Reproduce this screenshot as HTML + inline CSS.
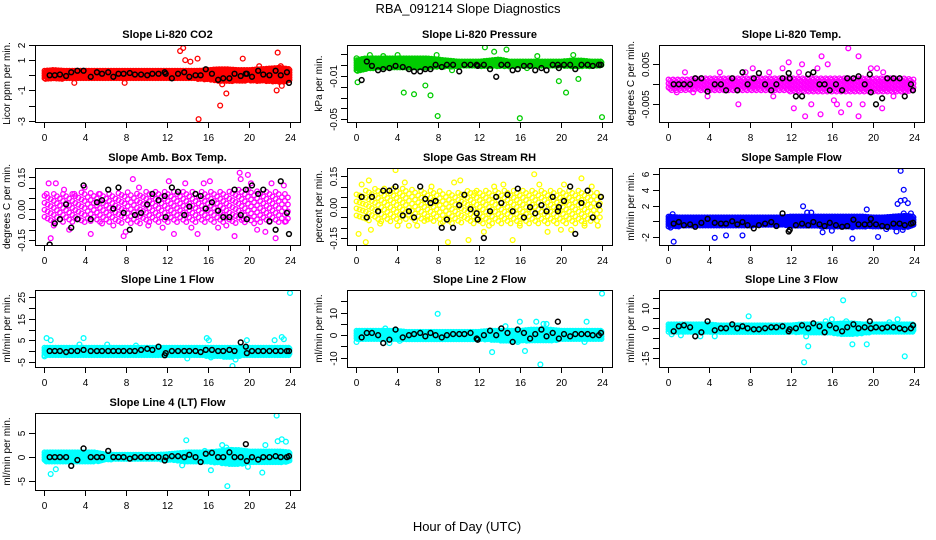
<!DOCTYPE html>
<html><head><meta charset="utf-8"><style>
html,body{margin:0;padding:0;background:#fff;}
svg{display:block;font-family:"Liberation Sans",sans-serif;}
</style></head><body>
<svg id="chart" width="936" height="540" viewBox="0 0 936 540" xmlns="http://www.w3.org/2000/svg">
<text x="468" y="13" font-size="13" text-anchor="middle">RBA_091214  Slope Diagnostics</text>
<text x="467" y="531" font-size="13" text-anchor="middle">Hour of Day (UTC)</text>
</svg>
<script>
// ---- data ----
const hourTicks = [0,4,8,12,16,20,24];
const blkX = [0.6,1.1,1.6,2.2,2.7,3.3,3.9,4.6,5.2,5.7,6.3,6.8,7.3,7.8,8.4,8.9,9.5,10.1,10.6,11.2,11.8,11.9,12.5,13.1,13.7,14.2,14.8,15.3,15.8,16.4,17.0,17.5,18.1,18.6,19.2,19.7,19.8,20.3,20.9,21.4,22.0,22.6,23.1,23.7,23.9];

const co2Blk = [0,0,0.05,-0.05,0.2,0.3,0.3,-0.1,0.2,0.1,0.2,-0.1,0.1,0.1,0.15,0.05,0.05,0,0.1,0.1,0.2,0.1,-0.2,0.1,0.2,-0.1,0,0,0.4,0.1,-0.3,-0.2,-0.2,0.1,-0.05,0.1,0.1,-0.1,0.3,0.05,0,0.3,0,0.2,-0.5];
const co2Lo = [-0.25,-0.25,-0.25,-0.25,-0.25,-0.25,-0.25,-0.25,-0.25,-0.25,-0.25,-0.25,-0.25,-0.25,-0.25,-0.25,-0.3,-0.4,-0.4,-0.4,-0.35,-0.4,-0.4,-0.45,-0.4];
const co2Hi = [0.3,0.35,0.3,0.3,0.3,0.3,0.3,0.3,0.3,0.3,0.3,0.3,0.3,0.3,0.3,0.3,0.35,0.4,0.4,0.35,0.35,0.4,0.45,0.5,0.4];
const co2OutX = [13.3,13.6,13.8,14.3,15.0,15.1,17.2,17.8,17.4,19.4,21.0,22.8,22.7,23.2,23.1,7.9,3.0];
const co2OutY = [1.6,1.8,1.0,0.9,1.1,-2.9,-2.0,-1.2,-0.6,1.1,0.6,1.5,-1.0,-0.7,0.6,-0.5,-0.5];

const presBlk = [-0.014,0.003,-0.001,-0.005,-0.004,-0.003,-0.001,-0.002,-0.004,-0.006,-0.006,-0.004,-0.004,0.0,-0.002,0.0,0.0,-0.006,0.0,0.0,0.0,-0.001,0.0,-0.004,-0.011,0.0,0.0,-0.005,-0.004,-0.001,-0.001,-0.005,-0.003,-0.005,0.0,0.0,-0.003,0.0,0.0,-0.004,0.0,0.0,-0.001,0.0,0.0];
const presLo = [-0.006,-0.004,-0.003,-0.003,-0.003,-0.003,-0.003,-0.003,-0.002,-0.002,-0.0015,-0.0015,-0.0015,-0.0015,-0.0015,-0.0015,-0.0015,-0.0015,-0.0015,-0.0015,-0.0015,-0.0015,-0.0015,-0.0015,-0.0015];
const presHi = [0.004,0.006,0.006,0.006,0.006,0.006,0.006,0.006,0.005,0.004,0.003,0.003,0.003,0.004,0.005,0.003,0.003,0.003,0.003,0.003,0.003,0.004,0.004,0.003,0.003];
const presOutX = [0.2,0.1,4.7,5.7,6.8,7.3,8.0,16.0,24.0,20.5,19.8,21.7,12.6,14.7,13.5,1.4,2.7,4.1,9.4,7.9,17.7,21.2,16.7];
const presOutY = [-0.016,0.006,-0.0255,-0.027,-0.019,-0.028,-0.047,-0.049,-0.048,-0.0255,-0.015,-0.013,0.016,0.014,0.012,0.009,0.008,0.009,-0.005,0.009,0.008,0.009,-0.003];

const lTempBlk = [0,0,0,0,0.0015,0.0015,-0.0018,0,0,-0.0015,0.0015,-0.0015,0.003,0,0.0015,0.0028,0,-0.0015,0,0.0015,0.0028,0.0015,-0.003,-0.003,0.0025,0.003,0,0,-0.0015,0,-0.0015,0.0015,0.0015,0.002,0,0.0025,-0.002,-0.005,-0.0035,0.0015,0.0015,0.0015,-0.003,0,-0.0015];
const lTempLo = [-0.0015,-0.0015,-0.0015,-0.0015,-0.0015,-0.0015,-0.0015,-0.0015,-0.0015,-0.0015,-0.0015,-0.0015,-0.002,-0.002,-0.002,-0.002,-0.002,-0.002,-0.002,-0.002,-0.002,-0.002,-0.002,-0.002,-0.0015];
const lTempHi = [0.0012,0.0012,0.0012,0.0015,0.0015,0.0015,0.0015,0.0015,0.0015,0.0015,0.0015,0.0015,0.0015,0.0015,0.0015,0.0015,0.0015,0.0015,0.0015,0.0015,0.0015,0.0015,0.0015,0.0015,0.0012];
const lTempOutX = [17.6,15.0,18.6,11.8,12.3,13.4,14.9,16.9,18.6,6.9,15.6,13.1,19.8,20.4,8.3,1.7,9.9,21.0,0.9,2.5,3.9,10.3,14.0,16.5,17.7,19.0,22.0,11.2,12.8,14.6,16.2,20.9,5.1,7.6];
const lTempOutY = [0.009,0.007,0.007,0.0055,-0.006,-0.008,-0.0075,-0.007,-0.008,-0.005,0.005,0.005,0.004,0.004,0.004,0.003,0.003,0.003,-0.002,-0.002,-0.003,-0.003,-0.005,-0.005,-0.005,-0.005,-0.003,0.004,0.003,0.004,-0.004,-0.006,0.003,0.003];

const ambBlk = [-0.17,-0.07,-0.05,0.02,-0.09,-0.05,0.11,-0.05,0.03,0.04,0.09,0.00,0.10,-0.02,-0.10,-0.03,-0.02,0.02,0.07,0.04,0.06,-0.04,0.10,0.08,-0.03,0.01,0.07,0.06,0.00,0.03,-0.01,-0.04,-0.04,0.09,-0.03,0.09,-0.05,0.11,0.07,0.09,-0.06,-0.10,0.13,-0.02,-0.12];
const ambLo = [-0.06,-0.07,-0.07,-0.07,-0.07,-0.07,-0.06,-0.07,-0.07,-0.07,-0.07,-0.07,-0.07,-0.07,-0.07,-0.07,-0.07,-0.07,-0.07,-0.07,-0.07,-0.07,-0.07,-0.07,-0.06];
const ambHi = [0.06,0.07,0.07,0.07,0.08,0.07,0.07,0.07,0.08,0.07,0.08,0.08,0.08,0.08,0.08,0.08,0.08,0.08,0.08,0.09,0.09,0.08,0.08,0.08,0.06];
const ambOutX = [0.5,0.3,0.7,1.2,1.0,3.0,2.5,4.0,4.6,5.4,5.7,6.8,7.8,8.7,9.3,10.2,11.6,12.2,12.7,13.8,14.4,15.0,15.6,16.2,17.0,17.8,18.6,19.1,19.2,19.9,20.2,20.8,21.6,22.2,22.6,23.4,23.6,19.5,8.0,2.0];
const ambOutY = [0.12,0.07,-0.14,0.12,-0.08,0.07,-0.10,0.10,-0.12,0.07,-0.07,-0.08,-0.13,0.14,0.10,-0.08,-0.09,0.13,-0.12,0.12,-0.09,-0.12,0.12,0.13,-0.09,-0.08,-0.13,0.17,0.14,0.16,0.12,-0.10,-0.11,0.12,-0.14,0.11,-0.06,-0.05,-0.11,0.09];

const rhBlk = [0.05,-0.05,0.05,-0.02,0.08,0.08,0.10,-0.04,-0.02,-0.05,0.10,0.04,0.02,0.03,-0.10,-0.06,-0.10,0.01,0.06,-0.01,-0.03,-0.06,-0.15,-0.02,0.05,0.02,0.06,-0.02,0.09,-0.05,0.00,-0.03,0.01,-0.02,0.05,-0.02,0.00,0.03,0.10,-0.13,0.02,0.08,-0.05,0.01,0.05];
const rhLo = [-0.06,-0.07,-0.07,-0.07,-0.07,-0.07,-0.07,-0.07,-0.07,-0.08,-0.08,-0.08,-0.08,-0.08,-0.08,-0.08,-0.08,-0.08,-0.08,-0.08,-0.08,-0.08,-0.08,-0.08,-0.06];
const rhHi = [0.06,0.08,0.09,0.09,0.09,0.09,0.08,0.08,0.08,0.07,0.07,0.08,0.08,0.08,0.08,0.08,0.08,0.08,0.08,0.08,0.08,0.08,0.08,0.08,0.06];
const rhOutX = [0.3,0.6,1.0,1.3,1.5,3.9,4.1,4.8,5.2,6.0,7.0,7.4,9.0,9.6,10.2,11.0,11.6,12.5,13.5,14.4,15.3,16.0,16.7,17.4,17.9,18.7,20.0,20.3,21.0,22.0,22.3,23.0,23.6,2.4,8.3,13.0];
const rhOutY = [-0.13,0.11,-0.17,0.13,-0.11,0.18,-0.09,0.12,-0.09,-0.09,-0.06,0.10,-0.17,0.12,0.13,-0.16,0.07,-0.12,0.10,0.11,-0.16,-0.09,-0.20,0.16,0.11,-0.12,-0.11,0.11,-0.11,0.14,-0.09,0.10,-0.09,-0.08,-0.08,-0.09];

const sfBlk = [-0.3,-0.1,-0.5,-0.4,-0.7,-0.2,0.3,-0.2,-0.3,-0.3,0.0,-0.4,-0.1,-0.5,-0.9,-0.5,-0.3,-0.1,-0.6,1.0,-1.3,-1.1,-0.5,-0.3,-0.5,-0.1,-0.4,-0.6,-0.2,-0.5,-0.7,-0.6,0.2,-0.4,-0.4,-0.4,0.3,-0.4,-0.6,-0.7,-0.3,-0.3,-0.5,-0.3,-0.2];
const sfLo = [-0.7,-0.7,-0.6,-0.6,-0.6,-0.6,-0.6,-0.6,-0.6,-0.5,-0.5,-0.5,-0.6,-0.6,-0.6,-0.7,-0.7,-0.7,-0.8,-0.7,-0.7,-0.7,-0.8,-0.8,-0.6];
const sfHi = [0.6,0.5,0.5,0.5,0.5,0.5,0.5,0.5,0.5,0.5,0.5,0.5,0.6,0.6,0.6,0.6,0.6,0.6,0.6,0.6,0.5,0.5,0.6,0.7,0.6];
const sfOutX = [0.6,4.6,5.7,7.3,18.0,20.5,13.2,13.6,14.0,19.4,22.7,23.0,22.4,22.7,23.1,23.4,23.7,23.0,22.3,22.9,0.5,15.1,16.0,21.3,0.3];
const sfOutY = [-2.6,-2.1,-1.8,-1.8,-2.2,-2.0,1.9,1.1,1.1,1.5,6.4,4.0,2.2,2.6,2.7,2.3,1.0,1.0,-1.3,-1.1,0.9,-1.4,-1.2,-1.0,-0.8];

const l1Blk = [0,0,0,-0.5,0,0,0.5,0,0,0,0,0,0,0,0,0,0.5,1,0.5,2,-2,-1,0,0,0,0,0,-0.5,0.5,0.5,0,0,0.5,0,4,2,-1,0,0,0,0,0,0,0,0];
const l1Lo = [-2,-2,-2,-2,-2,-2,-2,-2,-2,-2,-2,-2,-2,-2,-2,-2,-2.5,-2.5,-3,-2.5,-2,-2,-2,-2,-2];
const l1Hi = [1.5,1.5,1.5,1.5,1.5,1.5,1.5,1.5,1.5,1.5,1.5,1.5,1.5,1.5,1.5,1.5,1.5,1.5,1.5,1.5,1.5,1.5,1.5,1.5,1.5];
const l1OutX = [0.3,0.7,3.9,6.2,14.0,15.9,16.1,16.3,18.4,18.7,19.8,22.5,23.2,23.4,24.0,0.1,3.5,9.0];
const l1OutY = [6,5,6,3,-3.5,6,5,-3,-7,-4,5,5,6.5,5.5,27,-2.5,3,2.5];

const l2Blk = [-1,1,1,0,-3.5,-2,2.5,-1,0,0.5,1,-0.5,1,0,-1,0,0.5,0.5,0.5,1,-1.5,-2,0,2,0,3,1,-3,2.5,1,-1.5,0.5,2.5,-0.5,1,6,-1.5,0.5,-0.5,0.5,0.5,0.5,0,0,1];
const l2Lo = [-2,-2,-2,-2,-2,-2,-2,-2,-2,-2,-2,-2,-2,-2,-2.5,-2.5,-2.5,-2.5,-2.5,-2.5,-2,-2,-2,-2,-2];
const l2Hi = [2,2,2,2,2,1.5,1.5,1.5,1.5,1.5,1.5,1.5,1.5,2,2,2,2,2.5,2.5,2.5,2,2,2,2,2];
const l2OutX = [8.0,13.3,16.0,16.5,17.6,18.0,18.3,18.6,22.5,24.0,0.1,2.9,3.3,15.8,22.3,14.6,4.3];
const l2OutY = [9.5,-7.5,6,-7,6,-13,5,5,6,18.5,-3,3,-3.5,-3,-3,4,-2.5];

const l3Blk = [-1.5,1,1.5,0.5,-4,-2,3.5,-1,0,0,2,0,1,0,-0.5,-0.5,0,0.5,0.5,1,-1.5,-0.5,0,1.5,0,2.5,1,-2,1.5,0,-1.5,0.5,2,0,0.5,3.5,0,0.5,0,0.5,0.5,0,-0.5,0,1.5];
const l3Lo = [-2,-2,-2,-2,-2,-2,-2,-2,-2,-2,-2,-2,-2,-2,-2.5,-2.5,-2.5,-3,-3,-2.5,-2,-2,-2,-2,-2];
const l3Hi = [2,2,2,2,2,1.5,1.5,1.5,1.5,1.5,1.5,1.5,1.5,2,2,2,2,2.5,2.5,2,2,2,2,2,2];
const l3OutX = [7.9,17.1,24.0,13.3,13.5,13.7,18.0,19.4,23.1,4.6,0.4,1.3,15.4,16.0,17.4,21.6,22.4,3.2];
const l3OutY = [6,14,17,-17,-4,-9,-8,-8,-14,-4,-3,-3.5,3.5,4.5,3.5,3,4.5,-4];

const l4Blk = [0,0,0,0,-1.8,-0.6,1.8,0,0,0,1.3,0,0,0,-0.3,0,0,0,0,0,-0.7,0,0.2,0.2,0,0.5,0,-1,0.7,0.9,0,0,1,0,0,2.7,-0.8,0,-0.5,0,0,0.2,0,0,0.2];
const l4Lo = [-1,-1,-1,-1,-1,-1,-0.6,-0.5,-0.5,-0.5,-0.5,-0.5,-0.6,-0.8,-1,-1,-1,-1.2,-1.5,-1.5,-1.2,-1.2,-1.2,-1.2,-1];
const l4Hi = [1,1,1,1,1,1,0.6,0.5,0.5,0.5,0.5,0.5,0.6,0.8,1,1,1,1.2,1.5,1.5,1.2,1.2,1.2,1.2,1];
const l4OutX = [0.7,1.2,13.9,13.5,16.3,17.9,17.4,18.3,19.9,21.3,21.6,22.7,22.8,23.2,23.6,15.7,17.8];
const l4OutY = [-3.5,-2.5,3.5,-1.7,-2.7,-6,2.5,1.5,-2,-3.2,2.5,8.6,3.3,3.7,3.2,1.3,2];

// ---- layout / panel config ----
const colX = [35,347,659], rowY = [45,168,290,413], boxW = 265, boxH = 77;
const panels = [
 {name:'co2',title:'Slope Li-820 CO2',ylab:'Licor ppm per min.',col:'#ff0000',c:0,r:0,va:2,pa:45,vb:-3,pb:120.7,ticks:[2,1,0,-1,-2,-3],labels:['2','1','','-1','','-3'],lo:co2Lo,hi:co2Hi,ox:co2OutX,oy:co2OutY,by:co2Blk,dens:0},
 {name:'pressure',title:'Slope Li-820 Pressure',ylab:'kPa per min.',col:'#00cd00',c:1,r:0,va:-0.01,pa:75.7,vb:-0.05,pb:119.3,ticks:[0.01,0,-0.01,-0.02,-0.03,-0.04,-0.05],labels:['','','-0.01','','','','-0.05'],lo:presLo,hi:presHi,ox:presOutX,oy:presOutY,by:presBlk,dens:0},
 {name:'li820-temp',title:'Slope Li-820 Temp.',ylab:'degrees C per min.',col:'#ff00ff',c:2,r:0,va:0.005,pa:64.3,vb:-0.005,pb:104.3,ticks:[0.005,0,-0.005],labels:['0.005','','-0.005'],lo:lTempLo,hi:lTempHi,ox:lTempOutX,oy:lTempOutY,by:lTempBlk,dens:1},
 {name:'amb-box-temp',title:'Slope Amb. Box Temp.',ylab:'degrees C per min.',col:'#ff00ff',c:0,r:1,va:0.15,pa:177,vb:-0.15,pb:240.3,ticks:[0.15,0.1,0.05,0,-0.05,-0.1,-0.15],labels:['0.15','','','0.00','','','-0.15'],lo:ambLo,hi:ambHi,ox:ambOutX,oy:ambOutY,by:ambBlk,dens:2},
 {name:'gas-stream-rh',title:'Slope Gas Stream RH',ylab:'percent per min.',col:'#ffff00',c:1,r:1,va:0.15,pa:176.3,vb:-0.15,pb:238,ticks:[0.15,0.1,0.05,0,-0.05,-0.1,-0.15],labels:['0.15','','','0.00','','','-0.15'],lo:rhLo,hi:rhHi,ox:rhOutX,oy:rhOutY,by:rhBlk,dens:2},
 {name:'sample-flow',title:'Slope Sample Flow',ylab:'ml/min per min.',col:'#0000ff',c:2,r:1,va:6,pa:174,vb:-2,pb:237,ticks:[6,4,2,0,-2],labels:['6','4','2','','-2'],lo:sfLo,hi:sfHi,ox:sfOutX,oy:sfOutY,by:sfBlk,dens:0},
 {name:'line1-flow',title:'Slope Line 1 Flow',ylab:'ml/min per min.',col:'#00ffff',c:0,r:2,va:25,pa:297.3,vb:-5,pb:361.7,ticks:[25,20,15,10,5,0,-5],labels:['25','','15','','5','','-5'],lo:l1Lo,hi:l1Hi,ox:l1OutX,oy:l1OutY,by:l1Blk,dens:0},
 {name:'line2-flow',title:'Slope Line 2 Flow',ylab:'ml/min per min.',col:'#00ffff',c:1,r:2,va:10,pa:312.7,vb:-10,pb:357.7,ticks:[15,10,5,0,-5,-10],labels:['','10','','0','','-10'],lo:l2Lo,hi:l2Hi,ox:l2OutX,oy:l2OutY,by:l2Blk,dens:0},
 {name:'line3-flow',title:'Slope Line 3 Flow',ylab:'ml/min per min.',col:'#00ffff',c:2,r:2,va:10,pa:308.3,vb:-15,pb:358.3,ticks:[15,10,5,0,-5,-10,-15],labels:['','10','','0','','','-15'],lo:l3Lo,hi:l3Hi,ox:l3OutX,oy:l3OutY,by:l3Blk,dens:0},
 {name:'line4-flow',title:'Slope Line 4 (LT) Flow',ylab:'ml/min per min.',col:'#00ffff',c:0,r:3,va:5,pa:433,vb:-5,pb:481.3,ticks:[5,0,-5],labels:['5','0','-5'],lo:l4Lo,hi:l4Hi,ox:l4OutX,oy:l4OutY,by:l4Blk,dens:0}
];
const densDx=[0.09,0.15,0.3], densDy=[2.5,4,7];

const NS='http://www.w3.org/2000/svg';
const svg=document.getElementById('chart');
function mk(tag,attrs,parent){const e=document.createElementNS(NS,tag);for(const k in attrs)e.setAttribute(k,attrs[k]);(parent||svg).appendChild(e);return e;}

panels.forEach(p=>{
  const bx=colX[p.c], by=rowY[p.r];
  const xs=h=>bx+8.5+h*(246.5/24);
  const ys=v=>p.pa+(v-p.va)*(p.pb-p.pa)/(p.vb-p.va);
  const g=mk('g',{});
  
  
  const clipId='clip-'+p.name;
  const cp=mk('clipPath',{id:clipId},g);
  mk('rect',{x:bx,y:by,width:boxW,height:boxH},cp);
  const pts=mk('g',{'clip-path':'url(#'+clipId+')',fill:'none','stroke-width':1.3},g);
  
  
  const dx=densDx[p.dens], dy=densDy[p.dens];
  let k=0;
  for(let x=0.1;x<=24;x+=dx){
    const h=Math.min(23,Math.floor(x)), f=x-h;
    const lo=p.lo[h]+(p.lo[h+1]-p.lo[h])*f, hi=p.hi[h]+(p.hi[h+1]-p.hi[h])*f;
    const y1=ys(hi), y2=ys(lo);
    const off=(k%3)*dy/3; k++;
    for(let y=y1+off;y<=y2;y+=dy){
      mk('circle',{cx:xs(x).toFixed(1),cy:y.toFixed(1),r:2.3,stroke:p.col},pts);
    }
  }
  for(let i=0;i<Math.min(p.ox.length,p.oy.length);i++){
    const c=mk('circle',{cx:xs(p.ox[i]),cy:ys(p.oy[i]),r:2.4,stroke:p.col},pts);
    
    
  }
  for(let i=0;i<Math.min(blkX.length,p.by.length);i++){
    const c=mk('circle',{cx:xs(blkX[i]),cy:ys(p.by[i]),r:2.4,stroke:'#000','stroke-width':1.5},pts);
    
    
  }
  const box=mk('rect',{x:bx+0.5,y:by+0.5,width:boxW,height:boxH,fill:'none',stroke:'#000','stroke-width':1},g);
  
  
  const t=mk('text',{x:bx+boxW/2,y:by-7,'font-size':11,'font-weight':'bold','text-anchor':'middle'},g);
  t.textContent=p.title;
  
  
  hourTicks.forEach(h=>{
    const x=Math.round(xs(h))+0.5;
    mk('line',{x1:x,x2:x,y1:by+boxH,y2:by+boxH+6,stroke:'#000'},g);
    const tl=mk('text',{x:x,y:by+boxH+19,'font-size':10,'text-anchor':'middle'},g);
    tl.textContent=h;
    
    
  });
  p.ticks.forEach((v,i)=>{
    const y=Math.round(ys(v))+0.5;
    mk('line',{x1:bx-6,x2:bx,y1:y,y2:y,stroke:'#000'},g);
    if(p.labels[i]){
      const lx=bx-10;
      const tl=mk('text',{x:lx,y:y,'font-size':10,'text-anchor':'middle',transform:'rotate(-90 '+lx+' '+y+')'},g);
      tl.textContent=p.labels[i];
      
      
    }
  });
  const yx=bx-25, yy=by+boxH/2;
  const yl=mk('text',{x:yx,y:yy,'font-size':10,'text-anchor':'middle',transform:'rotate(-90 '+yx+' '+yy+')'},g);
  yl.textContent=p.ylab;
  
  
});
</script>
</body></html>
